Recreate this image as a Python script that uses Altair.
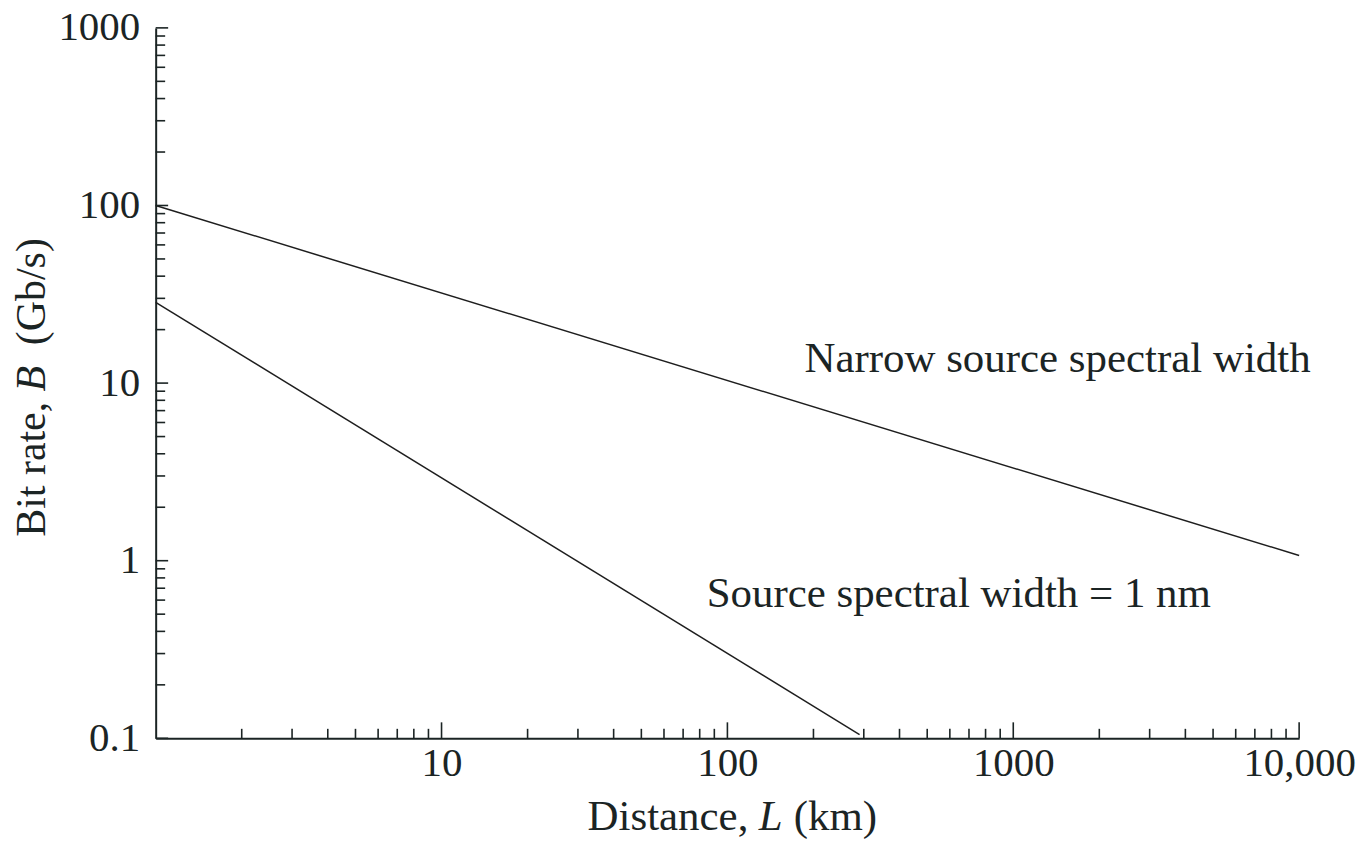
import altair as alt
import pandas as pd

FONT = "Liberation Serif"
INK = "#1b2424"
LINE = "#1e1e1e"

# ---- data ----
narrow_distance = [1, 10000]
narrow_bitrate = [100, 1.07]
nm1_distance = [1, 290]
nm1_bitrate = [28.5, 0.105]

x_label_values = [10, 100, 1000, 10000]
y_label_values = [0.1, 1, 10, 100, 1000]
x_major_ticks = [10, 100, 1000, 10000]
y_major_ticks = [0.1, 1, 10, 100, 1000]
x_minor_ticks = [m * d for d in [1, 10, 100, 1000] for m in range(2, 10)]
y_minor_ticks = [m * d for d in [0.1, 1, 10, 100] for m in range(2, 10)]

annot_text = ["Narrow source spectral width", "Source spectral width = 1 nm"]
annot_x = [186, 84.6]
annot_y = [11.57, 0.549]

W, H = 1146, 712

lines_df = pd.DataFrame({
    "L": narrow_distance + nm1_distance,
    "B": narrow_bitrate + nm1_bitrate,
    "series": ["narrow"] * len(narrow_distance) + ["1nm"] * len(nm1_distance),
})

xs = alt.Scale(type="log", domain=[1, 10000], nice=False)
ys = alt.Scale(type="log", domain=[0.1, 1000], nice=False)

xaxis = alt.Axis(
    values=x_label_values,
    labelExpr="datum.value >= 10000 ? '10,000' : '' + datum.value",
    ticks=False, grid=False, domainColor=INK, domainWidth=2,
    labelFont=FONT, labelFontSize=41, labelColor=INK, labelPadding=5,
    labelBaseline="top", labelFlush=False, labelOverlap=False, title=None)
yaxis = alt.Axis(
    values=y_label_values,
    labelExpr="'' + datum.value",
    ticks=False, grid=False, domainColor=INK, domainWidth=2,
    labelFont=FONT, labelFontSize=41, labelColor=INK, labelPadding=16,
    labelBaseline="middle", labelFlush=False, labelOverlap=False, title=None)

lines = alt.Chart(lines_df).mark_line(color=LINE, strokeWidth=1.5).encode(
    x=alt.X("L:Q", scale=xs, axis=xaxis),
    y=alt.Y("B:Q", scale=ys, axis=yaxis),
    detail="series:N",
)

def xticks(vals, length):
    return alt.Chart(pd.DataFrame({"v": vals})).mark_rule(color=INK, strokeWidth=1.6).encode(
        x=alt.X("v:Q", scale=xs, axis=xaxis),
        y=alt.value(H), y2=alt.value(H - length))

def yticks(vals, length):
    return alt.Chart(pd.DataFrame({"v": vals})).mark_rule(color=INK, strokeWidth=1.6).encode(
        y=alt.Y("v:Q", scale=ys, axis=yaxis),
        x=alt.value(0), x2=alt.value(length))

annot = alt.Chart(pd.DataFrame({"t": annot_text, "x": annot_x, "y": annot_y})).mark_text(
    font=FONT, fontSize=43, color=INK, align="left", baseline="alphabetic").encode(
    x=alt.X("x:Q", scale=xs, axis=xaxis), y=alt.Y("y:Q", scale=ys, axis=yaxis), text="t:N")

def piece(txt, x, y, size, italic=False, align="left", angle=0):
    kw = dict(font=FONT, fontSize=size, color=INK, align=align, baseline="alphabetic", text=txt)
    if italic:
        kw["fontStyle"] = "italic"
    if angle:
        kw["angle"] = angle
    return alt.Chart(pd.DataFrame({"t": [txt]})).mark_text(**kw).encode(
        x=alt.value(x), y=alt.value(y))

# x title: "Distance, L (km)"
xt_base = 804
xtitle = [
    piece("Distance,", 594, xt_base, 43, align="right"),
    piece("L", 604.5, xt_base, 43, italic=True),
    piece("(km)", 639.5, xt_base, 43),
]
# y title: "Bit rate, B  (Gb/s)" rotated
yt_x = -111
ytitle = [
    piece("Bit rate,", yt_x, 510, 42, angle=270),
    piece("B", yt_x, 364.5, 42, italic=True, angle=270),
    piece("(Gb/s)", yt_x, 318, 42, angle=270),
]

chart = alt.layer(
    lines,
    xticks(x_major_ticks, 16), xticks(x_minor_ticks, 9.5),
    yticks(y_major_ticks, 12.5), yticks(y_minor_ticks, 9.5),
    annot, *xtitle, *ytitle,
).properties(
    width=W, height=H,
    autosize=alt.AutoSizeParams(type="none"),
    padding={"left": 148, "top": 19, "right": 60, "bottom": 104},
    background="white",
).configure_view(stroke=None)

chart.save("out.html", embed_options={"renderer": "svg", "actions": False})
